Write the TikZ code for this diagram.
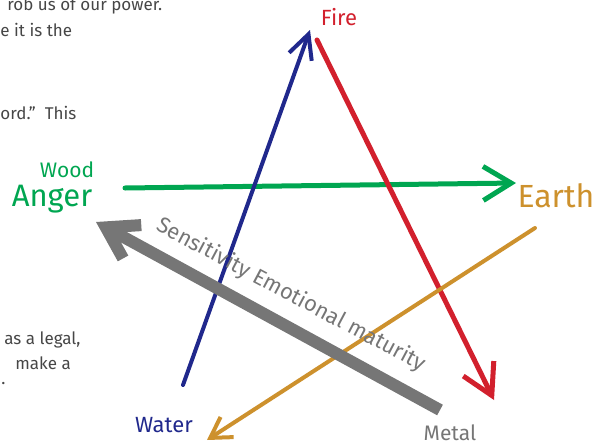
\documentclass[tikz,border=0pt]{standalone}
\usepackage{fontspec}
\setmainfont{Fira Sans}
\usetikzlibrary{arrows.meta}

\definecolor{woodgreen}{RGB}{0,166,81}
\definecolor{firered}{RGB}{210,32,45}
\definecolor{waterblue}{RGB}{32,40,140}
\definecolor{earthorange}{RGB}{205,145,45}
\definecolor{metalgray}{RGB}{118,118,118}
\definecolor{textgray}{RGB}{70,70,70}

\begin{document}
\begin{tikzpicture}[x=0.5pt, y=-0.5pt, line cap=round, line join=round,
    lbl/.style={inner sep=0pt},
    side/.style={inner sep=0pt, anchor=west, text=textgray, font=\fontsize{8.5}{10}\selectfont}]
  \useasboundingbox (0,0) rectangle (605,445);
  % ends of the strokes
  \coordinate (wood_s)  at (125,188);
  \coordinate (wood_e)  at (516,183);
  \coordinate (water_s) at (183,385);
  \coordinate (water_e) at (310,30);
  \coordinate (fire_s)  at (317,40);
  \coordinate (fire_e)  at (494,400);
  \coordinate (earth_s) at (535,228);
  \coordinate (earth_e) at (207,440);
  \coordinate (metal_s) at (440,410);
  \coordinate (metal_e) at (96,222);
  % element labels
  \node[lbl, text=firered, font=\fontsize{11}{13}\selectfont] (fire) at (339,17) {Fire};
  \node[lbl, text=woodgreen, font=\fontsize{10.5}{12}\selectfont] (wood) at (67,170) {Wood};
  \node[lbl, text=woodgreen, font=\fontsize{15.5}{18}\selectfont] (anger) at (52,199) {Anger};
  \node[lbl, text=earthorange, font=\fontsize{16}{18}\selectfont] (earth) at (556,196) {Earth};
  \node[lbl, text=waterblue, font=\fontsize{11}{13}\selectfont] (water) at (164,425) {Water};
  \node[lbl, text=metalgray, font=\fontsize{10.5}{12}\selectfont] (metal) at (450,433) {Metal};
  % the strokes
  \draw[woodgreen, line width=2.5pt, -{Straight Barb[length=14pt, width=17pt]}] (wood_s) -- (wood_e);
  \draw[waterblue, line width=2pt, -{Straight Barb[length=12pt, width=12pt]}] (water_s) -- (water_e);
  \draw[firered, line width=2.5pt, -{Straight Barb[length=15pt, width=17pt]}] (fire_s) -- (fire_e);
  \draw[earthorange, line width=2pt, -{Straight Barb[length=10pt, width=12pt]}] (earth_s) -- (earth_e);
  \draw[metalgray, line width=6pt, line cap=butt, -{Straight Barb[length=15pt, width=19pt]}] (metal_s) -- (metal_e);
  \node[lbl, text=metalgray, rotate=-28, font=\fontsize{11}{13}\selectfont] (maturity) at (291,295) {Sensitivity Emotional maturity};
  % cut-off page text at the left
  \node[side] (t1) at (7,6) {rob us of our power.};
  \node[side] (t2) at (0,30) {e it is the};
  \node[side] (t3) at (0,113) {ord."\ \ This};
  \node[side] (t4) at (4,340) {as a legal,};
  \node[side] (t5) at (15,363) {make a};
  \node[side] (t6) at (1,384) {.};
\end{tikzpicture}
\end{document}
